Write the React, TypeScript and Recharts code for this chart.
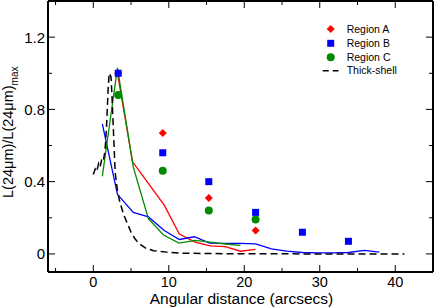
import React from 'react';
import { ComposedChart, Line, Scatter, XAxis, YAxis } from 'recharts';

// Measured points (symbols)
const pointDist = [3.3, 9.2, 15.3, 21.5, 27.7, 33.8];
const regionA = [1.0, 0.67, 0.31, 0.13];
const regionB = [1.0, 0.56, 0.4, 0.23, 0.12, 0.07];
const regionC = [0.88, 0.46, 0.24, 0.19];

// Profiles (lines)
const redX = [3.2, 5.2, 7.3, 9.4, 11.4, 13.5, 15.5, 17.5, 19.5, 21.5];
const redY = [1.0, 0.51, 0.39, 0.27, 0.11, 0.065, 0.045, 0.04, 0.015, 0.025];
const greenX = [1.2, 3.2, 5.3, 7.3, 9.3, 11.35, 13.5, 15.5, 17.5, 19.5];
const greenY = [0.43, 1.03, 0.48, 0.195, 0.105, 0.06, 0.075, 0.065, 0.055, 0.047];
const blueX = [1.2, 3.2, 5.3, 7.3, 9.4, 11.4, 13.4, 15.4, 17.5, 19.5, 21.5, 23.6, 25.6, 27.7, 29.7, 31.8, 33.8, 35.9, 37.9];
const blueY = [0.72, 0.33, 0.23, 0.205, 0.13, 0.08, 0.095, 0.06, 0.058, 0.058, 0.056, 0.028, 0.015, 0.008, 0.006, 0.006, 0.008, 0.02, 0.01];
const shellX = [0, 0.25, 0.45, 0.7, 0.9, 1.15, 1.35, 1.55, 1.75, 1.95, 2.1, 2.35, 2.5, 2.7, 2.9, 3.2, 3.5, 4.0, 4.5, 5.0, 5.5, 6.0, 7.0, 8.0, 9.7, 12, 15, 20, 30, 41.2];
const shellY = [0.44, 0.47, 0.455, 0.5, 0.48, 0.53, 0.52, 0.57, 0.7, 0.9, 1.0, 0.98, 0.85, 0.65, 0.45, 0.35, 0.29, 0.22, 0.17, 0.12, 0.085, 0.06, 0.03, 0.018, 0.01, 0.004, 0.002, 0.001, 0, 0];

const xTicks = [-5, 0, 5, 10, 15, 20, 25, 30, 35, 40];
const yTicks = [0, 0.2, 0.4, 0.6, 0.8, 1.0, 1.2];

const zip = (xs: number[], ys: number[]) => ys.map((y, i) => ({ x: xs[i], y }));

const dataA = zip(pointDist, regionA);
const dataB = zip(pointDist, regionB);
const dataC = zip(pointDist, regionC);
const dataRed = zip(redX, redY);
const dataGreen = zip(greenX, greenY);
const dataBlue = zip(blueX, blueY);
const dataShell = zip(shellX, shellY);

const RED = '#ff0000';
const BLUE = '#0000ff';
const GREEN = '#008b00';
const FONT = '"Liberation Sans", Arial, Helvetica, sans-serif';

const isMajorX = (v: number) => Math.abs(v % 10) < 1e-9;
const isMajorY = (v: number) => Math.abs(v / 0.4 - Math.round(v / 0.4)) < 1e-6;
const fmtY = (v: number) => (Math.abs(v) < 1e-9 ? '0' : v.toFixed(1));

const BottomTick = (p: any) => {
  const v = p.payload.value;
  const major = isMajorX(v);
  return (
    <g>
      <line x1={p.x} y1={p.y} x2={p.x} y2={p.y - (major ? 7 : 4)} stroke="#000" strokeWidth={1} />
      {major && (
        <text x={p.x} y={p.y + 14.5} textAnchor="middle" fontSize={14.5} fill="#000" fontFamily={FONT}>
          {v}
        </text>
      )}
    </g>
  );
};

const TopTick = (p: any) => {
  const v = p.payload.value;
  const major = isMajorX(v);
  return <line x1={p.x} y1={p.y} x2={p.x} y2={p.y + (major ? 7 : 4)} stroke="#000" strokeWidth={1} />;
};

const LeftTick = (p: any) => {
  const v = p.payload.value;
  const major = isMajorY(v);
  return (
    <g>
      <line x1={p.x} y1={p.y} x2={p.x + (major ? 7 : 4)} y2={p.y} stroke="#000" strokeWidth={1} />
      {major && (
        <text x={p.x - 3} y={p.y} dy="0.36em" textAnchor="end" fontSize={15} fill="#000" fontFamily={FONT}>
          {fmtY(v)}
        </text>
      )}
    </g>
  );
};

const RightTick = (p: any) => {
  const v = p.payload.value;
  const major = isMajorY(v);
  return <line x1={p.x} y1={p.y} x2={p.x - (major ? 7 : 4)} y2={p.y} stroke="#000" strokeWidth={1} />;
};

const Diamond = (p: any) => {
  const { cx, cy } = p;
  if (cx == null || cy == null) return null;
  const r = 4;
  return <path d={`M${cx},${cy - r}L${cx + r},${cy}L${cx},${cy + r}L${cx - r},${cy}Z`} fill={RED} />;
};
const Square = (p: any) => {
  const { cx, cy } = p;
  if (cx == null || cy == null) return null;
  const r = 3.5;
  return <rect x={cx - r} y={cy - r} width={2 * r} height={2 * r} fill={BLUE} />;
};
const Circle = (p: any) => {
  const { cx, cy } = p;
  if (cx == null || cy == null) return null;
  return <circle cx={cx} cy={cy} r={4} fill={GREEN} />;
};

const XLabel = (p: any) => {
  const vb = p.viewBox || { x: 48, y: 272, width: 385, height: 35 };
  return (
    <text x={vb.x + vb.width / 2 + 1} y={vb.y + 31.5} textAnchor="middle" fontSize={15.5} fill="#000" fontFamily={FONT}>
      Angular distance (arcsecs)
    </text>
  );
};

const YLabel = () => (
  <text
    x={13}
    y={198}
    transform="rotate(-90 13 198)"
    textAnchor="start"
    fontSize={14.5}
    fill="#000"
    fontFamily={FONT}
  >
    L(24μm)/L(24μm)
    <tspan fontSize={10} dy={5}>max</tspan>
  </text>
);

const legendRows = [
  { label: 'Region A', kind: 'A' },
  { label: 'Region B', kind: 'B' },
  { label: 'Region C', kind: 'C' },
  { label: 'Thick-shell', kind: 'S' },
];

const LegendOverlay = () => {
  const rowY = [29, 43.3, 57.3, 70.7];
  const mx = 330.7;
  return (
    <svg width={436} height={307} style={{ position: 'absolute', left: 0, top: 0, pointerEvents: 'none' }}>
      {legendRows.map((r, i) => {
        const y = rowY[i];
        let marker: any = null;
        if (r.kind === 'A') marker = <Diamond cx={mx} cy={y} />;
        if (r.kind === 'B') marker = <Square cx={mx} cy={y} />;
        if (r.kind === 'C') marker = <Circle cx={mx} cy={y} />;
        if (r.kind === 'S')
          marker = <line x1={322.7} y1={y} x2={338.5} y2={y} stroke="#000" strokeWidth={1.5} strokeDasharray="6 4" />;
        return (
          <g key={r.label}>
            {marker}
            <text x={346.7} y={y} dy="0.36em" fontSize={10.5} fill="#000" fontFamily={FONT}>
              {r.label}
            </text>
          </g>
        );
      })}
    </svg>
  );
};

export default function App() {
  return (
    <div style={{ position: 'absolute', left: 0, top: 0, width: 436, height: 307, background: '#fff', fontFamily: FONT }}>
      <ComposedChart width={436} height={307} margin={{ top: 0, right: 0, bottom: 0, left: 0 }}>
        <XAxis
          xAxisId="b"
          dataKey="x"
          type="number"
          domain={[-6, 45]}
          ticks={xTicks}
          interval={0}
          orientation="bottom"
          height={35}
          tickSize={0}
          tickMargin={0}
          tickLine={false}
          axisLine={{ stroke: '#000', strokeWidth: 2 }}
          tick={(p: any) => <BottomTick {...p} />}
          allowDataOverflow
          label={<XLabel />}
        />
        <XAxis
          xAxisId="t"
          dataKey="x"
          type="number"
          domain={[-6, 45]}
          ticks={xTicks}
          interval={0}
          orientation="top"
          height={1}
          tickSize={0}
          tickMargin={0}
          tickLine={false}
          axisLine={{ stroke: '#000', strokeWidth: 2 }}
          tick={(p: any) => <TopTick {...p} />}
          allowDataOverflow
        />
        <YAxis
          yAxisId="l"
          dataKey="y"
          type="number"
          domain={[-0.1, 1.4]}
          ticks={yTicks}
          interval={0}
          orientation="left"
          width={48}
          tickSize={0}
          tickMargin={0}
          tickLine={false}
          axisLine={{ stroke: '#000', strokeWidth: 2 }}
          tick={(p: any) => <LeftTick {...p} />}
          allowDataOverflow
        />
        <YAxis
          yAxisId="r"
          dataKey="y"
          type="number"
          domain={[-0.1, 1.4]}
          ticks={yTicks}
          interval={0}
          orientation="right"
          width={3}
          tickSize={0}
          tickMargin={0}
          tickLine={false}
          axisLine={{ stroke: '#000', strokeWidth: 2 }}
          tick={(p: any) => <RightTick {...p} />}
          allowDataOverflow
        />
        <Line xAxisId="b" yAxisId="l" data={dataRed} dataKey="y" type="linear" stroke={RED} strokeWidth={1.3} dot={false} isAnimationActive={false} />
        <Line xAxisId="b" yAxisId="l" data={dataBlue} dataKey="y" type="linear" stroke={BLUE} strokeWidth={1.3} dot={false} isAnimationActive={false} />
        <Line xAxisId="b" yAxisId="l" data={dataGreen} dataKey="y" type="linear" stroke={GREEN} strokeWidth={1.3} dot={false} isAnimationActive={false} />
        <Line xAxisId="b" yAxisId="l" data={dataShell} dataKey="y" type="linear" stroke="#000" strokeWidth={1.5} strokeDasharray="7 4" dot={false} isAnimationActive={false} />
        <Scatter xAxisId="b" yAxisId="l" data={dataA} dataKey="y" shape={(p: any) => <Diamond {...p} />} isAnimationActive={false} />
        <Scatter xAxisId="b" yAxisId="l" data={dataC} dataKey="y" shape={(p: any) => <Circle {...p} />} isAnimationActive={false} />
        <Scatter xAxisId="b" yAxisId="l" data={dataB} dataKey="y" shape={(p: any) => <Square {...p} />} isAnimationActive={false} />
      </ComposedChart>
      <svg width={436} height={307} style={{ position: 'absolute', left: 0, top: 0, pointerEvents: 'none' }}>
        <YLabel />
      </svg>
      <LegendOverlay />
    </div>
  );
}
